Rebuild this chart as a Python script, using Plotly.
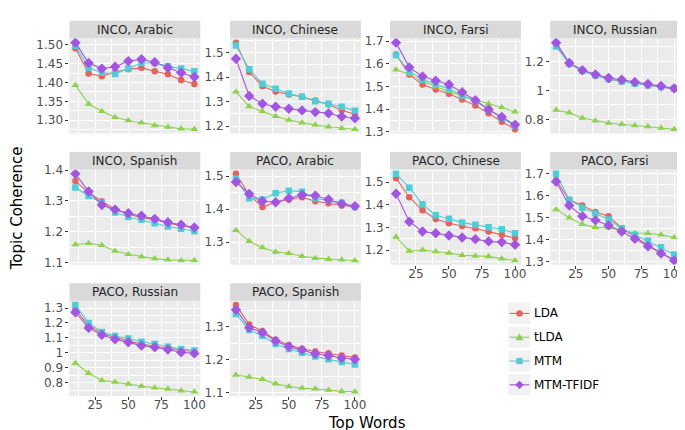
import plotly.graph_objects as go

# ---------------- data ----------------
top_words = [10, 20, 30, 40, 50, 60, 70, 80, 90, 100]
methods = ["LDA", "tLDA", "MTM", "MTM-TFIDF"]
panel_titles = ["INCO, Arabic", "INCO, Chinese", "INCO, Farsi", "INCO, Russian",
                "INCO, Spanish", "PACO, Arabic", "PACO, Chinese", "PACO, Farsi",
                "PACO, Russian", "PACO, Spanish"]

lda_values = [
    [1.491, 1.424, 1.417, 1.428, 1.435, 1.439, 1.430, 1.422, 1.407, 1.396],
    [1.541, 1.421, 1.363, 1.341, 1.329, 1.320, 1.304, 1.288, 1.265, 1.248],
    [1.642, 1.553, 1.509, 1.487, 1.469, 1.443, 1.417, 1.382, 1.345, 1.312],
    [1.313, 1.189, 1.137, 1.105, 1.075, 1.064, 1.048, 1.035, 1.023, 1.008],
    [1.365, 1.327, 1.299, 1.273, 1.257, 1.246, 1.239, 1.228, 1.221, 1.212],
    [1.507, 1.443, 1.406, 1.421, 1.429, 1.436, 1.424, 1.418, 1.411, 1.406],
    [1.517, 1.433, 1.375, 1.337, 1.318, 1.306, 1.296, 1.282, 1.267, 1.253],
    [1.670, 1.581, 1.555, 1.525, 1.506, 1.451, 1.413, 1.373, 1.339, 1.306],
    [1.291, 1.183, 1.128, 1.102, 1.080, 1.059, 1.043, 1.030, 1.017, 1.009],
    [1.367, 1.308, 1.287, 1.261, 1.245, 1.233, 1.225, 1.220, 1.213, 1.207],
]
tlda_values = [
    [1.393, 1.343, 1.324, 1.308, 1.299, 1.293, 1.286, 1.282, 1.277, 1.276],
    [1.340, 1.280, 1.260, 1.240, 1.225, 1.213, 1.204, 1.197, 1.191, 1.187],
    [1.574, 1.555, 1.522, 1.499, 1.478, 1.458, 1.440, 1.424, 1.408, 1.389],
    [0.865, 0.845, 0.809, 0.791, 0.775, 0.766, 0.757, 0.750, 0.741, 0.732],
    [1.159, 1.163, 1.156, 1.138, 1.127, 1.119, 1.113, 1.109, 1.107, 1.107],
    [1.336, 1.302, 1.283, 1.270, 1.266, 1.257, 1.251, 1.248, 1.246, 1.244],
    [1.257, 1.196, 1.200, 1.194, 1.187, 1.177, 1.174, 1.172, 1.162, 1.154],
    [1.537, 1.499, 1.469, 1.455, 1.454, 1.443, 1.428, 1.428, 1.421, 1.409],
    [0.930, 0.863, 0.815, 0.804, 0.791, 0.776, 0.765, 0.757, 0.746, 0.739],
    [1.153, 1.147, 1.140, 1.126, 1.118, 1.113, 1.111, 1.107, 1.103, 1.102],
]
mtm_values = [
    [1.498, 1.439, 1.426, 1.423, 1.437, 1.452, 1.452, 1.443, 1.437, 1.430],
    [1.529, 1.432, 1.373, 1.352, 1.333, 1.320, 1.301, 1.291, 1.279, 1.263],
    [1.639, 1.567, 1.531, 1.512, 1.490, 1.461, 1.436, 1.399, 1.363, 1.326],
    [1.302, 1.184, 1.134, 1.103, 1.080, 1.061, 1.048, 1.035, 1.023, 1.012],
    [1.344, 1.316, 1.294, 1.263, 1.248, 1.239, 1.228, 1.217, 1.210, 1.202],
    [1.492, 1.433, 1.429, 1.448, 1.456, 1.453, 1.433, 1.426, 1.419, 1.406],
    [1.536, 1.475, 1.402, 1.353, 1.338, 1.321, 1.311, 1.301, 1.292, 1.274],
    [1.699, 1.581, 1.545, 1.518, 1.491, 1.451, 1.421, 1.394, 1.364, 1.331],
    [1.320, 1.200, 1.139, 1.113, 1.096, 1.074, 1.059, 1.041, 1.026, 1.015],
    [1.340, 1.291, 1.273, 1.248, 1.233, 1.221, 1.210, 1.201, 1.193, 1.185],
]
mtm_tfidf_values = [
    [1.506, 1.452, 1.437, 1.442, 1.457, 1.462, 1.454, 1.439, 1.426, 1.415],
    [1.475, 1.323, 1.291, 1.279, 1.271, 1.264, 1.257, 1.252, 1.239, 1.232],
    [1.694, 1.585, 1.545, 1.526, 1.509, 1.475, 1.440, 1.399, 1.366, 1.332],
    [1.329, 1.189, 1.139, 1.110, 1.085, 1.073, 1.057, 1.044, 1.030, 1.014],
    [1.388, 1.331, 1.287, 1.272, 1.260, 1.252, 1.242, 1.231, 1.223, 1.214],
    [1.482, 1.446, 1.424, 1.421, 1.433, 1.443, 1.441, 1.429, 1.416, 1.409],
    [1.448, 1.325, 1.282, 1.274, 1.264, 1.255, 1.248, 1.238, 1.235, 1.223],
    [1.663, 1.555, 1.506, 1.487, 1.464, 1.436, 1.403, 1.369, 1.336, 1.304],
    [1.272, 1.167, 1.120, 1.091, 1.070, 1.048, 1.037, 1.022, 1.004, 0.996],
    [1.353, 1.298, 1.283, 1.257, 1.240, 1.230, 1.218, 1.213, 1.205, 1.201],
]
y_tick_steps = [0.05, 0.1, 0.1, 0.2, 0.1, 0.1, 0.1, 0.1, 0.1, 0.1]
y_tick_formats = [".2f", "", "", "", "", "", "", "", "", ""]
x_tick_values = [25, 50, 75, 100]

# ---------------- styling ----------------
W, H = 685, 430
colors = {"LDA": "#E3625C", "tLDA": "#8FD14F", "MTM": "#4FCDD6", "MTM-TFIDF": "#A155E0"}
symbols = {"LDA": "circle", "tLDA": "triangle-up", "MTM": "square", "MTM-TFIDF": "diamond"}
msizes = {"LDA": 6.5, "tLDA": 7, "MTM": 6.5, "MTM-TFIDF": 8}
series = {"LDA": lda_values, "tLDA": tlda_values, "MTM": mtm_values, "MTM-TFIDF": mtm_tfidf_values}

col_px = [(62, 194), (224, 356), (385.5, 517.5), (547, 678)]
row_px = [(25, 123), (160, 258), (295, 393)]
strip_h = 18
font_family = "DejaVu Sans"

def fx(p):
    return p / W

def fy(p):
    return 1 - p / H

fig = go.Figure()
layout = {}
shapes = []
annotations = []

xmin, xmax = min(top_words), max(top_words)
xpad = (xmax - xmin) * 0.05
bottom_panels = {6, 7, 8, 9}

for i, title in enumerate(panel_titles):
    r, c = divmod(i, 4)
    x0, x1 = col_px[c]
    y0, y1 = row_px[r]
    n = i + 1
    xa = "x" if n == 1 else f"x{n}"
    ya = "y" if n == 1 else f"y{n}"
    for m in methods:
        fig.add_trace(go.Scatter(
            x=top_words, y=series[m][i], mode="lines+markers", name=m,
            showlegend=False, xaxis=xa, yaxis=ya,
            line=dict(color=colors[m], width=1.1),
            marker=dict(color=colors[m], symbol=symbols[m], size=msizes[m], line=dict(width=0)),
        ))
    vals = [v for m in methods for v in series[m][i]]
    lo, hi = min(vals), max(vals)
    ypad = (hi - lo) * 0.05
    show_x = i in bottom_panels
    layout["xaxis" if n == 1 else f"xaxis{n}"] = dict(
        domain=[fx(x0), fx(x1)], anchor=ya, range=[xmin - xpad, xmax + xpad],
        tickmode="array", tickvals=x_tick_values, showticklabels=show_x,
        ticks="outside" if show_x else "", ticklen=3, tickcolor="#333333", tickwidth=1,
        ticklabelstandoff=-5,
        tickfont=dict(size=12, color="#4D4D4D", family=font_family),
        showgrid=True, gridcolor="white", gridwidth=1.1, zeroline=False, showline=False,
        minor=dict(tickmode="linear", tick0=0, dtick=12.5, showgrid=True, gridcolor="white", gridwidth=0.5),
    )
    layout["yaxis" if n == 1 else f"yaxis{n}"] = dict(
        domain=[fy(y1), fy(y0)], anchor=xa, range=[lo - ypad, hi + ypad],
        tickmode="linear", tick0=0, dtick=y_tick_steps[i], tickformat=y_tick_formats[i],
        ticks="outside", ticklen=3, tickcolor="#333333", tickwidth=1,
        tickfont=dict(size=12, color="#4D4D4D", family=font_family),
        showgrid=True, gridcolor="white", gridwidth=1.1, zeroline=False, showline=False,
        minor=dict(tickmode="linear", tick0=0, dtick=y_tick_steps[i] / 2, showgrid=True,
                   gridcolor="white", gridwidth=0.5),
    )
    # panel background
    shapes.append(dict(type="rect", xref="paper", yref="paper", layer="below",
                       x0=fx(x0), x1=fx(x1), y0=fy(y1), y1=fy(y0),
                       fillcolor="#EBEBEB", line=dict(width=0)))
    # strip
    shapes.append(dict(type="rect", xref="paper", yref="paper",
                       x0=fx(x0), x1=fx(x1), y0=fy(y0), y1=fy(y0 - strip_h),
                       fillcolor="#D9D9D9", line=dict(width=0)))
    annotations.append(dict(text=title, xref="paper", yref="paper", x=fx((x0 + x1) / 2),
                            y=fy(y0 - strip_h / 2), showarrow=False, xanchor="center", yanchor="middle",
                            font=dict(size=12, color="#262626", family=font_family)))

# axis titles
annotations.append(dict(text="Topic Coherence", xref="paper", yref="paper", x=fx(9), y=fy(200),
                        textangle=-90, showarrow=False, xanchor="center", yanchor="middle",
                        font=dict(size=15, color="black", family=font_family)))
annotations.append(dict(text="Top Words", xref="paper", yref="paper", x=fx(362), y=fy(421),
                        showarrow=False, xanchor="center", yanchor="middle",
                        font=dict(size=15, color="black", family=font_family)))

# legend (ggplot-style keys)
key_x0, key_x1 = 505, 527
key_centers = [308, 332.5, 357, 381.5]
for m, cy in zip(methods, key_centers):
    shapes.append(dict(type="rect", xref="paper", yref="paper",
                       x0=fx(key_x0), x1=fx(key_x1), y0=fy(cy + 11), y1=fy(cy - 11),
                       fillcolor="#F2F2F2", line=dict(width=0)))
    shapes.append(dict(type="line", xref="paper", yref="paper",
                       x0=fx(key_x0 + 1), x1=fx(key_x1 - 1), y0=fy(cy), y1=fy(cy),
                       line=dict(color=colors[m], width=1.1)))
    cx = (key_x0 + key_x1) / 2
    if m == "LDA":
        shapes.append(dict(type="circle", xref="paper", yref="paper",
                           x0=fx(cx - 3.3), x1=fx(cx + 3.3), y0=fy(cy + 3.3), y1=fy(cy - 3.3),
                           fillcolor=colors[m], line=dict(width=0)))
    elif m == "tLDA":
        path = f"M {fx(cx-4)} {fy(cy+3)} L {fx(cx+4)} {fy(cy+3)} L {fx(cx)} {fy(cy-4)} Z"
        shapes.append(dict(type="path", xref="paper", yref="paper", path=path,
                           fillcolor=colors[m], line=dict(width=0)))
    elif m == "MTM":
        shapes.append(dict(type="rect", xref="paper", yref="paper",
                           x0=fx(cx - 3.2), x1=fx(cx + 3.2), y0=fy(cy + 3.2), y1=fy(cy - 3.2),
                           fillcolor=colors[m], line=dict(width=0)))
    else:
        path = (f"M {fx(cx)} {fy(cy-4.3)} L {fx(cx+4.3)} {fy(cy)} L {fx(cx)} {fy(cy+4.3)} "
                f"L {fx(cx-4.3)} {fy(cy)} Z")
        shapes.append(dict(type="path", xref="paper", yref="paper", path=path,
                           fillcolor=colors[m], line=dict(width=0)))
    annotations.append(dict(text=m, xref="paper", yref="paper", x=fx(529), y=fy(cy),
                            showarrow=False, xanchor="left", yanchor="middle",
                            font=dict(size=12, color="black", family=font_family)))

fig.update_layout(
    width=W, height=H, autosize=False,
    margin=dict(l=0, r=0, t=0, b=0),
    paper_bgcolor="white", plot_bgcolor="rgba(0,0,0,0)",
    showlegend=False, shapes=shapes, annotations=annotations,
    font=dict(family=font_family),
    **layout,
)
fig.write_html("out.html")
